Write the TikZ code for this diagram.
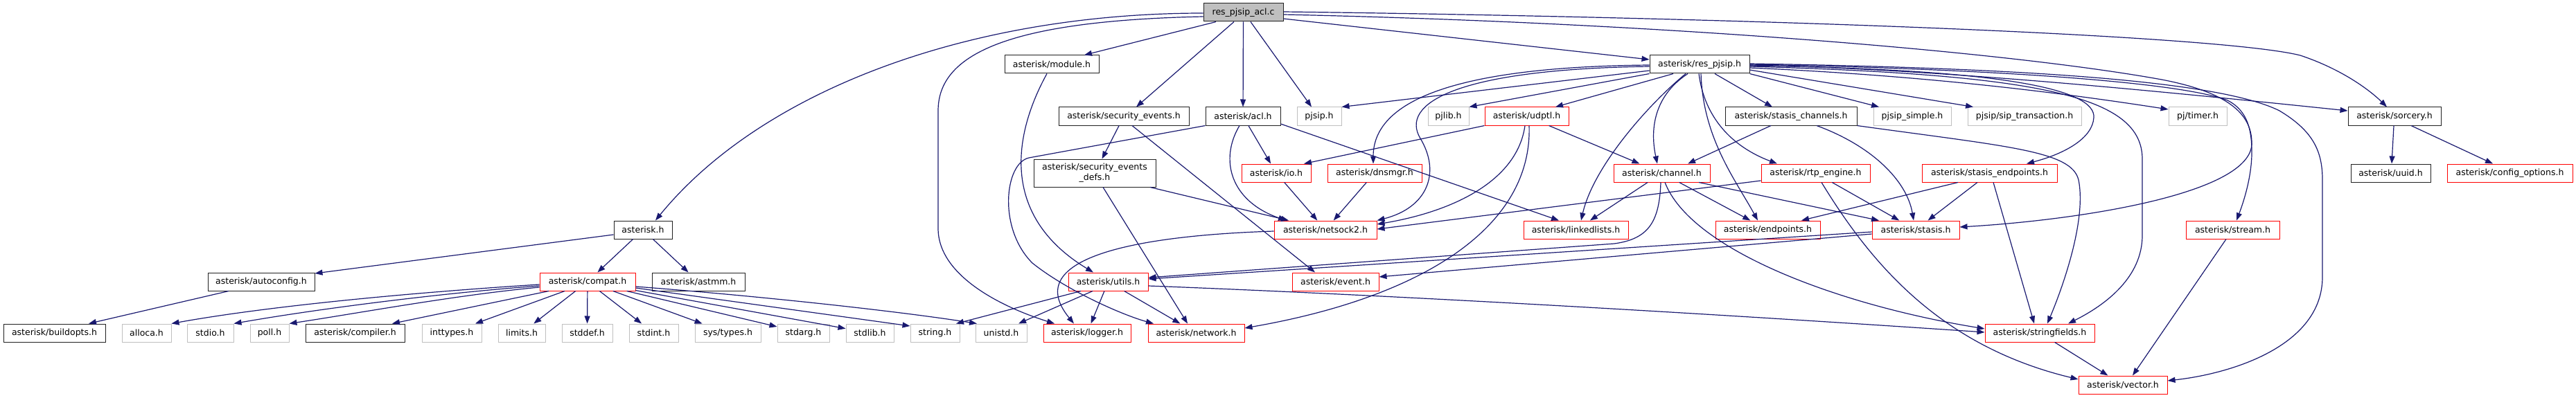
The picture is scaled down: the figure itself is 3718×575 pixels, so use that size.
\documentclass[tikz,border=0pt]{standalone}
\usepackage{fontspec}
\setmainfont{DejaVu Sans}
\usetikzlibrary{arrows.meta}
\definecolor{edgec}{HTML}{191970}
\definecolor{gry}{HTML}{BFBFBF}
\definecolor{rd}{HTML}{FF0000}
\definecolor{blk}{HTML}{202020}
\tikzset{
 box/.style={rectangle, inner sep=0pt, minimum height=26pt, fill=white, line width=1pt, font=\fontsize{12.5}{15}\selectfont, text=black},
 bbox/.style={box, draw=blk},
 rbox/.style={box, draw=rd},
 gbox/.style={box, draw=gry},
 root/.style={box, draw=blk, fill=gry},
 edg/.style={draw=edgec, line width=1.2pt, -{Triangle[length=11pt,width=8pt]}},
}
\newcommand{\nd}[6]{\node[#5, minimum width={#3pt-#2pt}] (#1) at ({(#2+#3)/2},#4) {#6};}
\begin{document}
\begin{tikzpicture}[x=1pt,y=-1pt]
\fill[white] (0,0) rectangle (3718,575);
\useasboundingbox (0,0) rectangle (3718,575);
% row 0
\nd{aclc}{1737}{1852}{18}{root}{res\_pjsip\_acl.c}
% row 1
\nd{module}{1450}{1586}{93}{bbox}{asterisk/module.h}
\nd{respjsip}{2381}{2525}{93}{bbox}{asterisk/res\_pjsip.h}
% row 2
\nd{secev}{1528}{1716}{168}{bbox}{asterisk/security\_events.h}
\nd{aclh}{1740}{1848}{168}{bbox}{asterisk/acl.h}
\nd{pjsip}{1872}{1936}{168}{gbox}{pjsip.h}
\nd{pjlib}{2061}{2120}{168}{gbox}{pjlib.h}
\nd{udptl}{2143}{2264}{168}{rbox}{asterisk/udptl.h}
\nd{stasischan}{2490}{2680}{168}{bbox}{asterisk/stasis\_channels.h}
\nd{pjsipsimple}{2704}{2816}{168}{gbox}{pjsip\_simple.h}
\nd{siptrans}{2840}{3004}{168}{gbox}{pjsip/sip\_transaction.h}
\nd{pjtimer}{3130}{3214}{168}{gbox}{pj/timer.h}
\nd{sorcery}{3389}{3523}{168}{bbox}{asterisk/sorcery.h}
% row 3
\nd{defs}{1492}{1668}{250}{bbox,minimum height=40pt,align=center}{asterisk/security\_events\\\_defs.h}
\nd{io}{1792}{1892}{250}{rbox}{asterisk/io.h}
\nd{dnsmgr}{1916}{2052}{250}{rbox}{asterisk/dnsmgr.h}
\nd{channel}{2329}{2468}{250}{rbox}{asterisk/channel.h}
\nd{rtp}{2542}{2699}{250}{rbox}{asterisk/rtp\_engine.h}
\nd{stasisep}{2774}{2969}{250}{rbox}{asterisk/stasis\_endpoints.h}
\nd{uuid}{3393}{3508}{250}{bbox}{asterisk/uuid.h}
\nd{cfgopt}{3532}{3713}{250}{rbox}{asterisk/config\_options.h}
% row 4
\nd{asteriskh}{886}{970}{332}{bbox}{asterisk.h}
\nd{netsock2}{1839}{1987}{332}{rbox}{asterisk/netsock2.h}
\nd{linkedlists}{2199}{2350}{332}{rbox}{asterisk/linkedlists.h}
\nd{endpoints}{2476}{2627}{332}{rbox}{asterisk/endpoints.h}
\nd{stasis}{2702}{2828}{332}{rbox}{asterisk/stasis.h}
\nd{stream}{3155}{3290}{332}{rbox}{asterisk/stream.h}
% row 5
\nd{autoconfig}{300}{454}{407}{bbox}{asterisk/autoconfig.h}
\nd{compat}{779}{917}{407}{rbox}{asterisk/compat.h}
\nd{astmm}{941}{1075}{407}{bbox}{asterisk/astmm.h}
\nd{utils}{1542}{1657}{407}{rbox}{asterisk/utils.h}
\nd{event}{1865}{1990}{407}{rbox}{asterisk/event.h}
% row 6
\nd{buildopts}{5}{152}{481}{bbox}{asterisk/buildopts.h}
\nd{alloca}{176}{247}{481}{gbox}{alloca.h}
\nd{stdio}{270}{337}{481}{gbox}{stdio.h}
\nd{poll}{361}{417}{481}{gbox}{poll.h}
\nd{compiler}{441}{584}{481}{bbox}{asterisk/compiler.h}
\nd{inttypes}{609}{695}{481}{gbox}{inttypes.h}
\nd{limits}{719}{787}{481}{gbox}{limits.h}
\nd{stddef}{811}{884}{481}{gbox}{stddef.h}
\nd{stdint}{908}{979}{481}{gbox}{stdint.h}
\nd{systypes}{1003}{1098}{481}{gbox}{sys/types.h}
\nd{stdarg}{1122}{1197}{481}{gbox}{stdarg.h}
\nd{stdlib}{1221}{1290}{481}{gbox}{stdlib.h}
\nd{string}{1314}{1385}{481}{gbox}{string.h}
\nd{unistd}{1408}{1482}{481}{gbox}{unistd.h}
\nd{logger}{1506}{1632}{481}{rbox}{asterisk/logger.h}
\nd{network}{1657}{1796}{481}{rbox}{asterisk/network.h}
\nd{stringfields}{2865}{3023}{481}{rbox}{asterisk/stringfields.h}
% row 7
\nd{vector}{3000}{3128}{556}{rbox}{asterisk/vector.h}

% ---- edges from res_pjsip_acl.c
\draw[edg] (aclc.south -| 1755,0) -- (module.north -| 1565,0);
\draw[edg] (aclc.south -| 1781,0) -- (secev.north -| 1640,0);
\draw[edg] (aclc) -- (aclh);
\draw[edg] (aclc.south -| 1805,0) -- (pjsip.north -| 1893,0);
\draw[edg] (aclc.east |- 0,27) -- (respjsip.west |- 0,86);
\draw[edg] (aclc.east |- 0,17) .. controls (2500,25) and (3200,50) .. (3320,80) .. controls (3380,100) and (3420,130) .. (sorcery.north -| 3445,0);
\draw[edg] (aclc.east |- 0,21) .. controls (2400,33) and (2900,75) .. (3120,115) .. controls (3225,135) and (3250,170) .. (3250,207) .. controls (3250,280) and (3000,318) .. (stasis.east |- 0,328);
\draw[edg] (aclc.west |- 0,19) .. controls (1400,19) and (1100,130) .. (asteriskh.north -| 946,0);
\draw[edg] (aclc.west |- 0,24) .. controls (1450,30) and (1354,80) .. (1354,160) -- (1354,330) .. controls (1354,400) and (1450,445) .. (logger.north -| 1522,0);
% ---- module, security events, acl
\draw[edg] (module.south -| 1511,0) .. controls (1465,190) and (1440,310) .. (utils.north -| 1578,0);
\draw[edg] (secev) -- (defs);
\draw[edg] (secev.south -| 1634,0) -- (event.north -| 1898,0);
\draw[edg] (defs.south -| 1660,0) -- (netsock2.north -| 1860,0);
\draw[edg] (defs.south -| 1592,0) -- (network.north -| 1714,0);
\draw[edg] (aclh.south west) -- (1485,228) .. controls (1450,236) and (1440,330) .. (1490,380) .. controls (1540,420) and (1620,455) .. (network.north -| 1665,0);
\draw[edg] (aclh) -- (io);
\draw[edg] (aclh.south -| 1789,0) .. controls (1760,230) and (1775,290) .. (netsock2.north -| 1856,0);
\draw[edg] (aclh.east |- 0,179) -- (linkedlists.north -| 2250,0);
\draw[edg] (io) -- (netsock2);
\draw[edg] (dnsmgr) -- (netsock2);
% ---- udptl
\draw[edg] (udptl.south west) -- (io.north -| 1882,0);
\draw[edg] (udptl.south -| 2201,0) .. controls (2190,260) and (2100,305) .. (netsock2.east |- 0,324);
\draw[edg] (udptl) -- (channel);
\draw[edg] (udptl.south -| 2207,0) .. controls (2212,330) and (2050,430) .. (network.east |- 0,474);
% ---- res_pjsip.h
\draw[edg] (respjsip.west |- 0,102) -- (pjsip.north east);
\draw[edg] (respjsip.south west) -- (pjlib.north east);
\draw[edg] (respjsip.south -| 2415,0) -- (udptl.north -| 2245,0);
\draw[edg] (respjsip.west |- 0,94) .. controls (2150,96) and (1982,130) .. (dnsmgr.north -| 1982,0);
\draw[edg] (respjsip.west |- 0,96) .. controls (2100,100) and (2020,150) .. (2050,200) .. controls (2080,250) and (2060,300) .. (netsock2.north east);
\draw[edg] (respjsip.south -| 2433,0) .. controls (2380,150) and (2300,240) .. (linkedlists.north -| 2282,0);
\draw[edg] (respjsip.south -| 2436,0) .. controls (2385,140) and (2382,190) .. (channel.north -| 2392,0);
\draw[edg] (respjsip.south -| 2475,0) -- (stasischan.north -| 2558,0);
\draw[edg] (respjsip.south east) -- (pjsipsimple.north -| 2712,0);
\draw[edg] (respjsip.east |- 0,101) -- (siptrans.north -| 2848,0);
\draw[edg] (respjsip.east |- 0,98) .. controls (2800,110) and (3000,138) .. (pjtimer.west |- 0,158);
\draw[edg] (respjsip.south -| 2452,0) .. controls (2460,170) and (2500,212) .. (rtp.north -| 2565,0);
\draw[edg] (respjsip.south -| 2455,0) .. controls (2458,200) and (2505,260) .. (endpoints.north -| 2537,0);
\draw[edg] (respjsip.east |- 0,95) .. controls (2900,100) and (3025,130) .. (3022,170) .. controls (3020,200) and (2980,222) .. (stasisep.north -| 2925,0);
\draw[edg] (respjsip.east |- 0,96) .. controls (2950,108) and (3092,140) .. (3092,230) -- (3092,340) .. controls (3092,400) and (3040,440) .. (stringfields.north -| 2985,0);
\draw[edg] (respjsip.east |- 0,94) .. controls (2800,100) and (3100,130) .. (sorcery.west |- 0,160);
\draw[edg] (respjsip.east |- 0,93) .. controls (2900,100) and (3150,120) .. (3215,145) .. controls (3245,160) and (3250,190) .. (3250,220) .. controls (3250,260) and (3235,300) .. (stream.north -| 3228,0);
\draw[edg] (respjsip.east |- 0,92) .. controls (2900,98) and (3200,115) .. (3290,160) .. controls (3340,190) and (3352,220) .. (3352,260) -- (3352,400) .. controls (3352,500) and (3220,540) .. (vector.east |- 0,550);
% ---- stasis_channels
\draw[edg] (stasischan.south -| 2556,0) -- (channel.north -| 2436,0);
\draw[edg] (stasischan.south -| 2622,0) .. controls (2700,210) and (2752,260) .. (stasis.north -| 2762,0);
\draw[edg] (stasischan.south east) .. controls (2900,212) and (2990,218) .. (3000,260) .. controls (3012,320) and (2975,420) .. (stringfields.north -| 2955,0);
% ---- channel
\draw[edg] (channel) -- (linkedlists);
\draw[edg] (channel) -- (endpoints);
\draw[edg] (channel.south -| 2452,0) -- (stasis.north -| 2712,0);
\draw[edg] (channel.south -| 2397,0) .. controls (2395,320) and (2380,345) .. (2330,352) -- (utils.east |- 0,401);
\draw[edg] (channel.south -| 2403,0) .. controls (2440,360) and (2650,440) .. (stringfields.west |- 0,475);
% ---- rtp_engine
\draw[edg] (rtp.west |- 0,261) -- (netsock2.east |- 0,331);
\draw[edg] (rtp) -- (stasis);
\draw[edg] (rtp.south -| 2629,0) .. controls (2700,380) and (2800,500) .. (vector.west |- 0,548);
% ---- stasis_endpoints
\draw[edg] (stasisep.south -| 2826,0) -- (endpoints.north -| 2600,0);
\draw[edg] (stasisep) -- (stasis);
\draw[edg] (stasisep.south -| 2877,0) -- (stringfields.north -| 2936,0);
% ---- stasis
\draw[edg] (stasis.west |- 0,335) -- (utils.east |- 0,403);
\draw[edg] (stasis.west |- 0,338) -- (event.east |- 0,400);
% ---- utils
\draw[edg] (utils) -- (logger);
\draw[edg] (utils) -- (network);
\draw[edg] (utils.south -| 1560,0) -- (string.north -| 1380,0);
\draw[edg] (utils.south -| 1577,0) -- (unistd.north -| 1470,0);
\draw[edg] (utils.east |- 0,413) .. controls (2100,430) and (2600,462) .. (stringfields.west |- 0,480);
% ---- netsock2
\draw[edg] (netsock2.west |- 0,334) .. controls (1650,340) and (1470,370) .. (logger.north -| 1550,0);
% ---- misc
\draw[edg] (stringfields) -- (vector);
\draw[edg] (stream.south -| 3213,0) -- (vector.north -| 3078,0);
\draw[edg] (sorcery.south -| 3455,0) -- (uuid.north -| 3452,0);
\draw[edg] (sorcery.south -| 3480,0) -- (cfgopt.north -| 3598,0);
% ---- asterisk.h
\draw[edg] (asteriskh.west |- 0,339) -- (autoconfig.east |- 0,395);
\draw[edg] (asteriskh) -- (compat);
\draw[edg] (asteriskh) -- (astmm);
\draw[edg] (autoconfig.south -| 330,0) -- (buildopts.north -| 128,0);
% ---- compat
\draw[edg] (compat.west |- 0,411) .. controls (620,421) and (400,440) .. (alloca.north east);
\draw[edg] (compat.west |- 0,413) .. controls (640,423) and (460,446) .. (stdio.north east);
\draw[edg] (compat.west |- 0,415) .. controls (660,426) and (520,452) .. (poll.north east);
\draw[edg] (compat.south -| 792,0) -- (compiler.north -| 566,0);
\draw[edg] (compat.south -| 815,0) -- (inttypes.north -| 686,0);
\draw[edg] (compat) -- (limits);
\draw[edg] (compat) -- (stddef);
\draw[edg] (compat) -- (stdint);
\draw[edg] (compat) -- (systypes);
\draw[edg] (compat) -- (stdarg);
\draw[edg] (compat) -- (stdlib);
\draw[edg] (compat.east |- 0,416) -- (string.west |- 0,471);
\draw[edg] (compat.east |- 0,414) .. controls (1100,428) and (1300,450) .. (unistd.north -| 1410,0);
\end{tikzpicture}
\end{document}
